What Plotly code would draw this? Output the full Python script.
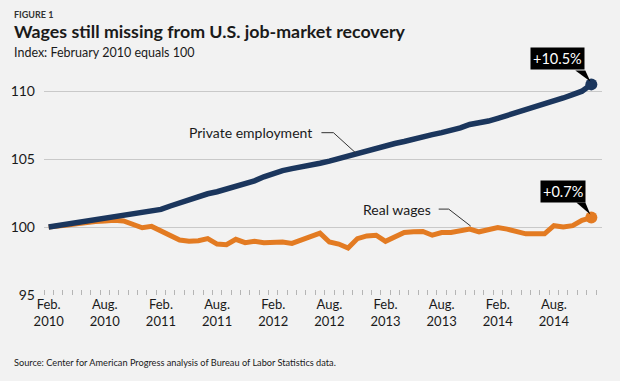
import plotly.graph_objects as go
import pandas as pd

# ---- data -------------------------------------------------------------
months = pd.date_range("2010-02-01", "2014-12-01", freq="MS")

private_employment = [
    100.0, 100.1, 100.25, 100.35, 100.45, 100.55, 100.65, 100.75, 100.85, 100.95,
    101.1, 101.2, 101.3, 101.55, 101.8, 102.05, 102.25, 102.45, 102.6, 102.8,
    103.0, 103.15, 103.4, 103.7, 103.95, 104.15, 104.3, 104.4, 104.55, 104.7,
    104.85, 105.05, 105.25, 105.4, 105.6, 105.75, 105.95, 106.15, 106.3, 106.5,
    106.65, 106.8, 106.95, 107.1, 107.3, 107.55, 107.65, 107.8, 108.0, 108.2,
    108.45, 108.65, 108.85, 109.1, 109.3, 109.5, 109.75, 110.0, 110.5,
]

real_wages = [
    100.0, 100.05, 100.15, 100.25, 100.35, 100.4, 100.45, 100.5, 100.45, 100.2,
    99.95, 100.05, 99.75, 99.35, 99.05, 98.95, 99.0, 99.15, 98.75, 98.7,
    99.1, 98.85, 98.95, 98.85, 98.85, 98.9, 98.8, 99.05, 99.35, 99.55,
    98.9, 98.75, 98.45, 99.15, 99.35, 99.4, 98.95, 99.3, 99.6, 99.65,
    99.68, 99.4, 99.6, 99.6, 99.7, 99.85, 99.65, 99.8, 99.97, 99.85,
    99.7, 99.5, 99.5, 99.5, 100.1, 100.0, 100.1, 100.5, 100.7,
]

y_ticks = [95, 100, 105, 110]
emp_label = "+10.5%"
wage_label = "+0.7%"
emp_name = "Private employment"
wage_name = "Real wages"

# ---- derived ----------------------------------------------------------
x = list(range(len(months)))
tick_idx = [i for i, m in enumerate(months) if m.month in (2, 8)]
tick_text = [f"{months[i].strftime('%b')}.<br>{months[i].year}" for i in tick_idx]
minor_vals = [i - 0.5 for i in range(len(months) + 1)]

NAVY = "#1b365d"
ORANGE = "#e37b22"
BG = "#f2f2f2"
FONT = "Lato"
TXT = "#1a1a1a"

fig = go.Figure()
fig.add_trace(go.Scatter(x=x, y=real_wages, mode="lines",
                         line=dict(color=ORANGE, width=5), hoverinfo="skip"))
fig.add_trace(go.Scatter(x=x, y=private_employment, mode="lines",
                         line=dict(color=NAVY, width=5.5), hoverinfo="skip"))
fig.add_trace(go.Scatter(x=[x[-1]], y=[real_wages[-1]], mode="markers",
                         marker=dict(color=ORANGE, size=12), hoverinfo="skip"))
fig.add_trace(go.Scatter(x=[x[-1]], y=[private_employment[-1]], mode="markers",
                         marker=dict(color=NAVY, size=12), hoverinfo="skip"))

L, R, T, B = 44, 18, 64, 86
W, H = 620, 381
pw, ph = W - L - R, H - T - B


def px(xp):
    return (xp - L) / pw


def py(yp):
    return (H - B - yp) / ph


shapes = []
# leader lines (pixel paths anchored at data points)
ie, iw = 33, 45
shapes.append(dict(type="path", xref="x", yref="y", xsizemode="pixel", ysizemode="pixel",
                   xanchor=ie, yanchor=private_employment[ie],
                   path="M -2,1 L -24,21 L -36,21", line=dict(color="#333333", width=1)))
shapes.append(dict(type="path", xref="x", yref="y", xsizemode="pixel", ysizemode="pixel",
                   xanchor=iw, yanchor=real_wages[iw],
                   path="M 1,3 L -21,20 L -31,20", line=dict(color="#333333", width=1)))
# callout pointers
shapes.append(dict(type="path", xref="x", yref="y", xsizemode="pixel", ysizemode="pixel",
                   xanchor=x[-1], yanchor=private_employment[-1],
                   path="M -16,14 L -6,14 L -1,3 Z", fillcolor="black", line=dict(width=0)))
shapes.append(dict(type="path", xref="x", yref="y", xsizemode="pixel", ysizemode="pixel",
                   xanchor=x[-1], yanchor=real_wages[-1],
                   path="M -15,15 L -6,15 L -1,3 Z", fillcolor="black", line=dict(width=0)))

annotations = [
    dict(text="<b>FIGURE 1</b>", xref="paper", yref="paper", x=px(12), y=py(14),
         xanchor="left", yanchor="middle", showarrow=False,
         font=dict(family=FONT, size=9, color="#333333")),
    dict(text="<b>Wages still missing from U.S. job-market recovery</b>", xref="paper", yref="paper",
         x=px(12), y=py(31), xanchor="left", yanchor="middle", showarrow=False,
         font=dict(family=FONT, size=17.8, color=TXT)),
    dict(text="Index: February 2010 equals 100", xref="paper", yref="paper",
         x=px(12), y=py(53), xanchor="left", yanchor="middle", showarrow=False,
         font=dict(family=FONT, size=12.5, color=TXT)),
    dict(text="Source: Center for American Progress analysis of Bureau of Labor Statistics data.",
         xref="paper", yref="paper", x=px(12), y=py(362), xanchor="left", yanchor="middle",
         showarrow=False, font=dict(family=FONT, size=9.2, color=TXT)),
    dict(text=emp_name, x=ie, y=private_employment[ie], xanchor="right", yanchor="middle",
         xshift=-43, yshift=21, showarrow=False, font=dict(family=FONT, size=14, color=TXT)),
    dict(text=wage_name, x=iw, y=real_wages[iw], xanchor="right", yanchor="middle",
         xshift=-37, yshift=20, showarrow=False, font=dict(family=FONT, size=14, color=TXT)),
    dict(text=emp_label, x=x[-1], y=private_employment[-1], xanchor="right", yanchor="bottom",
         xshift=-6, yshift=14, showarrow=False, bgcolor="black", borderpad=2,
         font=dict(family=FONT, size=14.5, color="white")),
    dict(text=wage_label, x=x[-1], y=real_wages[-1], xanchor="right", yanchor="bottom",
         xshift=-5, yshift=15, showarrow=False, bgcolor="black", borderpad=2,
         font=dict(family=FONT, size=14.5, color="white")),
]

fig.update_layout(
    width=W, height=H, margin=dict(l=L, r=R, t=T, b=B),
    paper_bgcolor=BG, plot_bgcolor=BG, showlegend=False,
    shapes=shapes, annotations=annotations,
    font=dict(family=FONT, color=TXT),
)
fig.update_xaxes(range=[-0.5, len(months) - 1 + 1.14], showgrid=False, zeroline=False,
                 tickmode="array", tickvals=tick_idx, ticktext=tick_text, ticks="",
                 tickfont=dict(family=FONT, size=13, color=TXT),
                 showline=False,
                 minor=dict(tickmode="array", tickvals=minor_vals, ticks="inside", ticklen=5,
                            tickcolor="#b5b5b5", tickwidth=1, showgrid=False))
fig.update_yaxes(range=[95, 112], tickmode="array", tickvals=y_ticks, showgrid=True,
                 gridcolor="#c9c9c9", gridwidth=1, zeroline=False, ticks="",
                 ticklabelstandoff=8, tickfont=dict(family=FONT, size=14, color=TXT))

fig.write_html(
    "out.html",
    config={"displayModeBar": False},
    post_script="document.body.style.margin='0px';document.body.style.background='%s';" % BG,
)
